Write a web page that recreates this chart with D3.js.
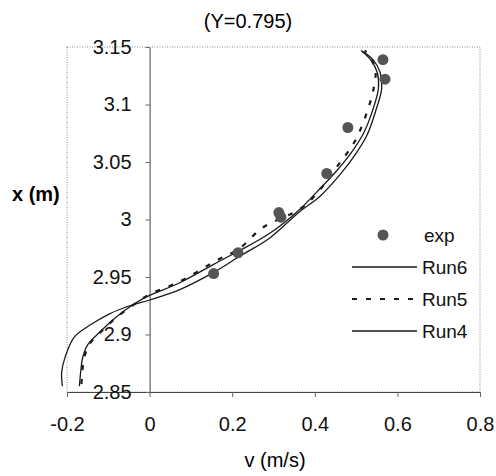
<!DOCTYPE html>
<html>
<head>
<meta charset="utf-8">
<script src="https://cdn.jsdelivr.net/npm/d3@7"></script>
<style>
  body { margin: 0; background: #fff; }
  svg { font-family: "Liberation Sans", Arial, sans-serif; }
</style>
</head>
<body>
<div id="chart"></div>
<script>
// measured profile at Y=0.795
const expV = [0.155, 0.214, 0.313, 0.318, 0.429, 0.480, 0.570, 0.565];
const expX = [2.953, 2.971, 3.006, 3.002, 3.040, 3.080, 3.122, 3.139];

const run6V = [-0.211, -0.213, -0.204, -0.182, -0.145, -0.097, -0.048, 0, 0.073, 0.155, 0.218, 0.291, 0.364, 0.412, 0.461, 0.497, 0.526, 0.548, 0.562, 0.558, 0.541, 0.516];
const run6X = [2.855, 2.867, 2.881, 2.898, 2.908, 2.918, 2.925, 2.930, 2.939, 2.954, 2.968, 2.984, 3.007, 3.020, 3.039, 3.056, 3.073, 3.095, 3.114, 3.128, 3.139, 3.146];

const run5V = [-0.165, -0.163, -0.158, -0.147, -0.119, -0.083, -0.034, 0, 0.073, 0.155, 0.218, 0.274, 0.368, 0.415, 0.456, 0.497, 0.526, 0.543, 0.546, 0.521];
const run5X = [2.857, 2.868, 2.880, 2.891, 2.902, 2.914, 2.927, 2.935, 2.946, 2.963, 2.975, 2.993, 3.010, 3.027, 3.047, 3.068, 3.093, 3.115, 3.132, 3.147];

const run4V = [-0.170, -0.167, -0.162, -0.150, -0.121, -0.085, -0.036, 0, 0.073, 0.155, 0.218, 0.291, 0.364, 0.405, 0.452, 0.488, 0.518, 0.541, 0.554, 0.551, 0.535, 0.512];
const run4X = [2.855, 2.867, 2.880, 2.891, 2.902, 2.914, 2.927, 2.934, 2.945, 2.961, 2.973, 2.988, 3.009, 3.024, 3.042, 3.058, 3.075, 3.096, 3.114, 3.128, 3.139, 3.147];

const vTicks = [-0.2, 0, 0.2, 0.4, 0.6, 0.8];
const xTicks = [2.85, 2.9, 2.95, 3, 3.05, 3.1, 3.15];

const width = 496;
const height = 476;

const svg = d3.select("#chart")
  .append("svg")
  .attr("width", width)
  .attr("height", height);

const x = d3.scaleLinear().domain([-0.2, 0.8]).range([67, 480]);
const y = d3.scaleLinear().domain([2.85, 3.15]).range([392, 47]);

// dotted plot frame
svg.append("rect")
  .attr("x", x(-0.2))
  .attr("y", y(3.15))
  .attr("width", x(0.8) - x(-0.2))
  .attr("height", y(2.85) - y(3.15))
  .attr("fill", "none")
  .attr("stroke", "#888")
  .attr("stroke-dasharray", "1,1.5");

// axes
const xAxis = svg.append("g")
  .attr("transform", `translate(0,${y(2.85)})`)
  .call(d3.axisBottom(x).tickValues(vTicks).tickSize(5).tickSizeOuter(0)
    .tickPadding(20).tickFormat(d => String(d)));

const yAxis = svg.append("g")
  .attr("transform", `translate(${x(0)},0)`)
  .call(d3.axisLeft(y).tickValues(xTicks).tickSize(4).tickSizeOuter(0)
    .tickPadding(14).tickFormat(d => String(d)));

[xAxis, yAxis].forEach(g => {
  g.select(".domain").attr("stroke", "#444");
  g.selectAll(".tick line").attr("stroke", "#666");
  g.selectAll(".tick text")
    .attr("fill", "#111")
    .style("font-size", "20px")
    .style("font-family", "'Liberation Sans', Arial, sans-serif");
});

// curves
const line = d3.line()
  .x(d => x(d[0]))
  .y(d => y(d[1]))
  .curve(d3.curveCatmullRom);

const runs = [
  { name: "Run6", v: run6V, h: run6X, dash: null, w: 1.3 },
  { name: "Run5", v: run5V, h: run5X, dash: "5,9", w: 2.2 },
  { name: "Run4", v: run4V, h: run4X, dash: null, w: 1.3 }
];

runs.forEach(r => {
  svg.append("path")
    .datum(d3.zip(r.v, r.h))
    .attr("d", line)
    .attr("fill", "none")
    .attr("stroke", "#1a1a1a")
    .attr("stroke-width", r.w)
    .attr("stroke-dasharray", r.dash);
});

svg.append("g")
  .selectAll("circle")
  .data(d3.zip(expV, expX))
  .join("circle")
  .attr("cx", d => x(d[0]))
  .attr("cy", d => y(d[1]))
  .attr("r", 5.5)
  .attr("fill", "#555");

// legend
const legend = svg.append("g").style("font-size", "19px").attr("fill", "#111");
legend.append("circle").attr("cx", 383).attr("cy", 235).attr("r", 5.5).attr("fill", "#555");
legend.append("text").attr("x", 424).attr("y", 242).text("exp");

runs.forEach((r, i) => {
  const ly = 267 + i * 32;
  legend.append("line")
    .attr("x1", 352).attr("x2", 417)
    .attr("y1", ly).attr("y2", ly)
    .attr("stroke", "#1a1a1a")
    .attr("stroke-width", r.w)
    .attr("stroke-dasharray", r.dash);
  legend.append("text").attr("x", 422).attr("y", ly + 7).text(r.name);
});

// titles
svg.append("text")
  .attr("x", 248).attr("y", 28)
  .attr("text-anchor", "middle")
  .style("font-size", "20px")
  .text("(Y=0.795)");

svg.append("text")
  .attr("x", 12).attr("y", 201)
  .style("font-size", "20px")
  .style("font-weight", "bold")
  .text("x (m)");

svg.append("text")
  .attr("x", 275).attr("y", 467)
  .attr("text-anchor", "middle")
  .style("font-size", "20px")
  .text("v (m/s)");
</script>
</body>
</html>
